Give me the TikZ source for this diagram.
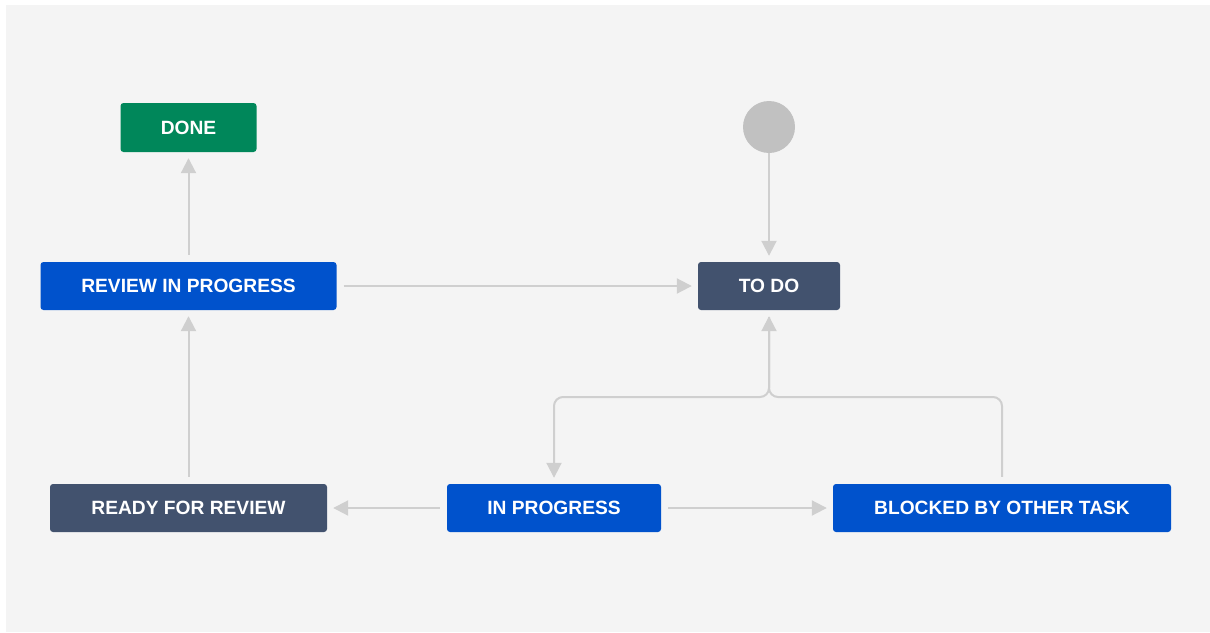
\documentclass[tikz,border=0pt]{standalone}
\usepackage{xcolor}
\usepackage{fontspec}
\setmainfont{Liberation Sans}
\usepackage{tikz}
\usetikzlibrary{arrows.meta}

\definecolor{jblue}{HTML}{0052CC}
\definecolor{jslate}{HTML}{42526E}
\definecolor{jgreen}{HTML}{00875A}
\definecolor{jbg}{HTML}{F4F4F4}
\definecolor{jline}{HTML}{CFCFCF}
\definecolor{jstart}{HTML}{C1C1C1}

\begin{document}
\begin{tikzpicture}[x=1pt,y=-1pt,line join=round,
  status/.style={rounded corners=3pt,text=white,inner sep=0pt,minimum height=48pt,
    font=\fontsize{19.2}{22}\selectfont\bfseries},
  flow/.style={draw=jline,line width=2pt,-{Triangle[width=15pt,length=15pt]},
    shorten >=6pt,shorten <=7pt}]
  \useasboundingbox (0,0) rectangle (1210,632);
  \fill[white] (0,0) rectangle (1210,632);
  \fill[jbg] (6,5) rectangle (1210,632);
  \node[status,fill=jgreen,minimum width=136pt,minimum height=49pt] (done) at (188.5,127.5) {DONE};
  \node[status,fill=jblue,minimum width=296pt] (review) at (188.5,286) {REVIEW IN PROGRESS};
  \node[status,fill=jslate,minimum width=142pt] (todo) at (769,286) {TO DO};
  \node[circle,fill=jstart,minimum size=52pt,inner sep=0pt] (start) at (769,127) {};
  \node[status,fill=jslate,minimum width=277pt] (ready) at (188.5,508) {READY FOR REVIEW};
  \node[status,fill=jblue,minimum width=214pt] (inprog) at (554,508) {IN PROGRESS};
  \node[status,fill=jblue,minimum width=338pt] (blocked) at (1002,508) {BLOCKED BY OTHER TASK};
  \coordinate (fork) at (769,397);
  \draw[flow] (review) -- (done);
  \draw[flow] (ready) -- (review);
  \draw[flow] (review) -- (todo);
  \draw[flow,shorten <=0pt] (start) -- (todo);
  \draw[flow] (inprog) -- (ready);
  \draw[flow] (inprog) -- (blocked);
  \draw[flow,rounded corners=9pt] (todo.south) -- (fork) -| (inprog.north);
  \draw[flow,rounded corners=9pt] (blocked.north) |- (fork) -- (todo.south);
\end{tikzpicture}
\end{document}
